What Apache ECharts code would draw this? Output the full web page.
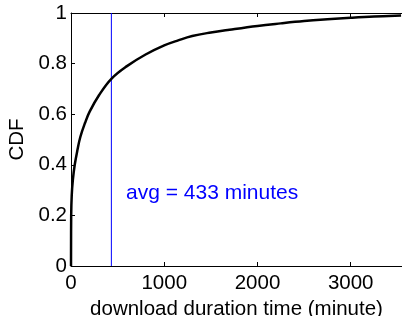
<!DOCTYPE html>
<html>
<head>
    <meta charset="utf-8">
    <title>CDF</title>
    <style type="text/css">
        * { margin: 0; padding: 0; }
        body { background: #fff; }
        #chart { width: 402px; height: 316px; }
    </style>
</head>
<body>
<div id="chart"></div>
<script src="https://cdn.jsdelivr.net/npm/echarts@6/dist/echarts.min.js"></script>
<script type="text/javascript">
    // download duration (minute) and CDF value
    var durations = [0, 2, 8, 20, 40, 70, 100, 150, 200, 300, 433, 600, 800, 1000, 1150, 1300, 1500, 1700, 2000, 2250, 2500, 2750, 3000, 3250, 3540];
    var cdfValues = [0, 0.2, 0.28, 0.34, 0.4, 0.46, 0.51, 0.565, 0.61, 0.675, 0.74, 0.79, 0.836, 0.872, 0.892, 0.909, 0.923, 0.934, 0.949, 0.959, 0.968, 0.975, 0.981, 0.986, 0.99];
    var avgMinutes = 433;
    var avgLineY = [0, 1];
    var xTicks = [0, 1000, 2000, 3000];
    var yTicks = [0, 0.2, 0.4, 0.6, 0.8, 1];

    var font = 'Liberation Sans, Arial, sans-serif';
    var points = durations.map(function (d, i) { return [d, cdfValues[i]]; });
    var avgLine = avgLineY.map(function (y) { return [avgMinutes, y]; });

    var chart = echarts.init(document.getElementById('chart'));

    var option = {
        animation: false,
        grid: { left: 71, top: 13, right: 0, bottom: 50, outerBoundsMode: 'none', containLabel: false },
        xAxis: [{
            type: 'value',
            min: 0,
            max: 3550,
            interval: 1000,
            name: 'download duration time (minute)',
            nameLocation: 'middle',
            nameGap: 24,
            nameTextStyle: { fontFamily: font, fontSize: 20.5, color: '#000' },
            axisLine: { lineStyle: { color: '#000', width: 1 } },
            axisTick: { inside: true, length: 4, lineStyle: { color: '#000' } },
            axisLabel: {
                fontFamily: font, fontSize: 20.5, color: '#000', margin: 7,
                showMaxLabel: false,
                formatter: function (v) { return xTicks.indexOf(v) >= 0 ? String(v) : ''; }
            },
            splitLine: { show: false }
        }, {
            type: 'value',
            position: 'top',
            min: 0,
            max: 3550,
            interval: 1000,
            axisLine: { lineStyle: { color: '#000', width: 1 } },
            axisTick: { inside: true, length: 4, lineStyle: { color: '#000' } },
            axisLabel: { show: false },
            splitLine: { show: false }
        }],
        yAxis: {
            type: 'value',
            min: 0,
            max: 1,
            interval: 0.2,
            name: 'CDF',
            nameLocation: 'middle',
            nameGap: 40,
            nameTextStyle: { fontFamily: font, fontSize: 20.5, color: '#000' },
            axisLine: { show: true, lineStyle: { color: '#000', width: 1 } },
            axisTick: { show: true, inside: true, length: 4, lineStyle: { color: '#000' } },
            axisLabel: {
                fontFamily: font, fontSize: 20.5, color: '#000', margin: 4,
                formatter: function (v) {
                    var t = yTicks.find(function (y) { return Math.abs(y - v) < 1e-9; });
                    return t === undefined ? '' : String(t);
                }
            },
            splitLine: { show: false }
        },
        graphic: [{
            type: 'text',
            left: 126,
            top: 183,
            style: { text: 'avg = ' + avgMinutes + ' minutes', fontFamily: font, fontSize: 21, fill: '#0000ff' }
        }],
        series: [{
            type: 'line',
            data: avgLine,
            showSymbol: false,
            silent: true,
            itemStyle: { color: '#0000ff' },
            lineStyle: { color: '#0000ff', width: 1 }
        }, {
            type: 'line',
            data: points,
            smooth: 0.4,
            showSymbol: false,
            itemStyle: { color: '#000' },
            lineStyle: { color: '#000', width: 2.5 }
        }]
    };

    chart.setOption(option);
</script>
</body>
</html>
